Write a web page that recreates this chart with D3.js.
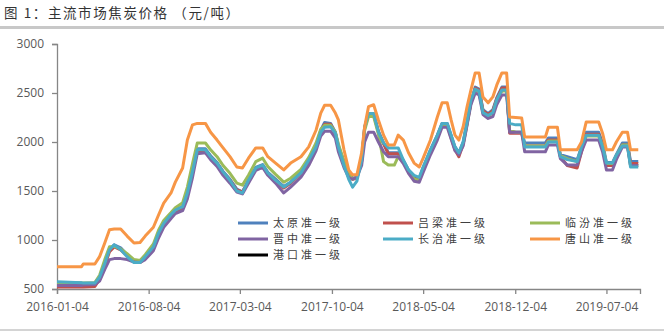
<!DOCTYPE html>
<html><head><meta charset="utf-8">
<script src="https://cdn.jsdelivr.net/npm/d3@7/dist/d3.min.js"></script>
<style>
html,body{margin:0;padding:0;background:#fff;}
svg{display:block;}
</style></head>
<body>
<svg id="chart" width="664" height="336"></svg>
<script>
const title = "图 1：主流市场焦炭价格 （元/吨）";
const dates = ["2016-01-04","2016-03-01","2016-03-05","2016-04-01","2016-04-12","2016-04-24","2016-05-05","2016-05-16","2016-05-31","2016-06-15",
"2016-07-01","2016-07-15","2016-07-27","2016-08-15","2016-08-27","2016-09-08","2016-09-25","2016-10-05","2016-10-22","2016-11-02",
"2016-11-14","2016-11-25","2016-12-14","2016-12-26","2017-01-10","2017-01-24","2017-02-09","2017-02-25","2017-03-10","2017-03-24",
"2017-04-10","2017-04-26","2017-05-08","2017-05-26","2017-06-14","2017-06-30","2017-07-24","2017-08-11","2017-08-28","2017-09-08",
"2017-09-17","2017-10-01","2017-10-12","2017-10-19","2017-11-01","2017-11-12","2017-11-21","2017-12-01","2017-12-12","2017-12-19",
"2017-12-28","2018-01-09","2018-01-20","2018-02-01","2018-02-12","2018-02-26","2018-03-07","2018-03-19","2018-03-31","2018-04-13",
"2018-04-25","2018-05-04","2018-05-21","2018-06-06","2018-06-17","2018-06-29","2018-07-08","2018-07-17","2018-07-26","2018-08-05",
"2018-08-14","2018-08-23","2018-09-02","2018-09-11","2018-09-20","2018-10-02","2018-10-13","2018-10-22","2018-11-03","2018-11-14",
"2018-11-21","2018-12-05","2018-12-19","2018-12-26","2019-01-18","2019-02-12","2019-02-19","2019-03-12","2019-03-19","2019-04-04",
"2019-04-27","2019-05-07","2019-05-18","2019-06-16","2019-06-25","2019-07-04","2019-07-18","2019-07-27","2019-08-10","2019-08-22",
"2019-08-29","2019-09-16"];

const taiyuan = [560,560,555,560,620,760,900,950,920,850,
790,775,820,920,1060,1170,1250,1300,1340,1480,
1700,1930,1930,1860,1790,1700,1620,1520,1490,1610,
1740,1770,1690,1620,1545,1590,1690,1815,1960,2120,
2200,2190,2100,1960,1800,1690,1630,1640,1815,2150,
2290,2290,2110,1990,1890,1890,1890,1815,1715,1650,
1630,1740,1920,2070,2190,2190,2070,1950,1890,2000,
2205,2400,2560,2540,2330,2290,2330,2450,2560,2560,
2100,2100,2100,1990,1990,1990,2040,2040,1870,1850,
1820,1950,2100,2100,1990,1790,1790,1870,1990,1990,
1800,1800];
const lvliang = [520,520,520,525,600,740,880,930,900,840,
780,770,815,915,1050,1160,1240,1290,1330,1470,
1690,1910,1910,1850,1780,1690,1610,1510,1490,1600,
1730,1760,1680,1610,1530,1580,1680,1800,1950,2110,
2180,2180,2090,1950,1790,1670,1620,1630,1800,2140,
2280,2280,2100,1980,1880,1880,1880,1800,1700,1640,
1620,1730,1910,2060,2180,2180,2050,1920,1850,1980,
2190,2400,2550,2530,2320,2280,2320,2440,2550,2550,
2090,2090,2090,1960,1960,1960,2020,2020,1850,1760,
1735,1900,2080,2080,1960,1760,1760,1850,1970,1970,
1780,1780];
const linfen = [560,560,560,565,640,800,930,935,910,860,
800,790,850,960,1100,1200,1280,1330,1380,1540,
1780,1990,1990,1920,1850,1760,1680,1580,1560,1660,
1800,1835,1750,1670,1590,1630,1720,1840,1990,2130,
2170,2170,2100,1980,1800,1680,1620,1640,1820,2120,
2260,2260,2080,1800,1765,1765,1850,1800,1700,1620,
1610,1720,1900,2040,2170,2170,2040,1930,1890,1980,
2180,2400,2530,2510,2300,2260,2300,2420,2520,2520,
2120,2100,2100,1960,1960,1960,2010,2010,1860,1830,
1800,1940,2060,2060,1960,1780,1780,1860,1970,1970,
1760,1760];
const jinzhong = [535,535,540,545,580,700,800,810,810,800,
775,770,800,890,1020,1130,1220,1270,1300,1420,
1640,1880,1890,1820,1750,1660,1580,1490,1470,1580,
1710,1740,1660,1580,1480,1540,1640,1760,1910,2060,
2110,2110,2040,1900,1740,1640,1620,1640,1760,2000,
2100,2100,2000,1900,1850,1850,1850,1780,1680,1600,
1590,1690,1870,2020,2150,2150,2030,1910,1870,1960,
2170,2380,2500,2480,2280,2240,2260,2380,2480,2480,
2100,2100,2100,1900,1900,1900,1970,1970,1830,1765,
1765,1900,2020,2020,1900,1715,1715,1820,1950,1950,
1760,1760];
const changzhi = [575,565,560,560,620,760,900,950,900,830,
770,770,830,930,1070,1170,1260,1305,1340,1480,
1700,1920,1920,1850,1785,1695,1610,1500,1480,1610,
1735,1765,1685,1610,1540,1590,1685,1815,1950,2100,
2150,2155,2090,1950,1760,1620,1540,1600,1815,2155,
2290,2290,2100,1990,1940,1940,1940,1815,1715,1660,
1640,1745,1920,2070,2190,2190,2070,1950,1890,2000,
2205,2430,2540,2520,2300,2270,2300,2430,2530,2530,
2190,2175,2175,1950,1950,1950,2000,2000,1850,1820,
1800,1950,2070,2070,1950,1785,1785,1865,1960,1960,
1745,1745];
const tangshan = [728,728,755,755,830,970,1105,1112,1112,1040,
970,975,1040,1130,1255,1377,1480,1590,1735,2020,
2175,2190,2190,2100,2020,1940,1850,1745,1735,1835,
1940,1940,1850,1785,1715,1785,1850,1950,2120,2295,
2375,2375,2295,2225,1920,1715,1665,1665,1890,2155,
2360,2380,2225,2070,1970,1970,2070,2020,1890,1785,
1745,1835,2020,2255,2400,2400,2225,2070,2020,2155,
2360,2530,2705,2705,2460,2400,2460,2580,2705,2705,
2255,2250,2245,2050,2050,2050,2150,2150,1920,1920,
1920,2000,2205,2205,2090,1920,1920,2000,2100,2100,
1920,1920];
const gangkou = [];

const seriesNames = ["太原准一级","吕梁准一级","临汾准一级","晋中准一级","长治准一级","唐山准一级","港口准一级"];
const seriesValues = [taiyuan, lvliang, linfen, jinzhong, changzhi, tangshan, gangkou];
const seriesColors = ["#4f81bd","#c0504d","#9bbb59","#8064a2","#4bacc6","#f79646","#000000"];

const yTicks = [500,1000,1500,2000,2500,3000];
const xTickLabels = ["2016-01-04","2016-08-04","2017-03-04","2017-10-04","2018-05-04","2018-12-04","2019-07-04"];

const parse = d3.timeParse("%Y-%m-%d");
const svg = d3.select("#chart");
svg.append("rect").attr("width",664).attr("height",336).attr("fill","#fff");

// title
svg.append("text").attr("x",4).attr("y",18)
  .attr("font-family","'Noto Sans CJK SC', sans-serif").attr("font-size",13.5)
  .attr("letter-spacing","1.6px").attr("fill","#333").text(title);
svg.append("rect").attr("x",0).attr("y",26).attr("width",664).attr("height",3).attr("fill","#c8c8c8");
svg.append("rect").attr("x",0).attr("y",329).attr("width",664).attr("height",2).attr("fill","#d4d4d4");

const x = d3.scaleTime().domain([parse("2016-01-04"), parse("2019-09-20")]).range([57, 640]);
const y = d3.scaleLinear().domain([500, 3000]).range([289, 44]);

const axisFont = "'Open Sans', 'Liberation Sans', sans-serif";

const yAxis = svg.append("g").attr("transform","translate(57,0)")
  .call(d3.axisLeft(y).tickValues(yTicks).tickSize(5).tickPadding(8).tickFormat(d3.format("d")));
const xAxis = svg.append("g").attr("transform","translate(0,289)")
  .call(d3.axisBottom(x).tickValues(xTickLabels.map(parse)).tickSize(5).tickPadding(8)
    .tickFormat((d,i)=>xTickLabels[i]));
[yAxis, xAxis].forEach(g=>{
  g.select(".domain").attr("stroke","#868686").attr("stroke-width",1.3);
  g.selectAll(".tick line").attr("stroke","#868686").attr("stroke-width",1.3);
  g.selectAll(".tick text").attr("fill","#595959").attr("font-family",axisFont).attr("font-size",12);
});

const line = d3.line().x(d=>x(d.date)).y(d=>y(d.value));
seriesValues.forEach((vals,i)=>{
  const pts = vals.map((v,j)=>({date: parse(dates[j]), value: v}));
  if (!pts.length) return;
  svg.append("path").datum(pts).attr("d",line)
    .attr("fill","none").attr("stroke",seriesColors[i]).attr("stroke-width",3)
    .attr("stroke-linejoin","round");
});

// legend
const legCols = [238, 383, 530];
const legRows = [223, 239, 255];
seriesNames.forEach((name,i)=>{
  const cx = legCols[i%3], cy = legRows[Math.floor(i/3)];
  svg.append("line").attr("x1",cx).attr("x2",cx+30).attr("y1",cy).attr("y2",cy)
    .attr("stroke",seriesColors[i]).attr("stroke-width",3);
  svg.append("text").attr("x",cx+35).attr("y",cy+4)
    .attr("font-family","'Noto Sans CJK SC', sans-serif").attr("font-size",11)
    .attr("letter-spacing","3px").attr("fill","#404040").text(name);
});
</script>
</body></html>
